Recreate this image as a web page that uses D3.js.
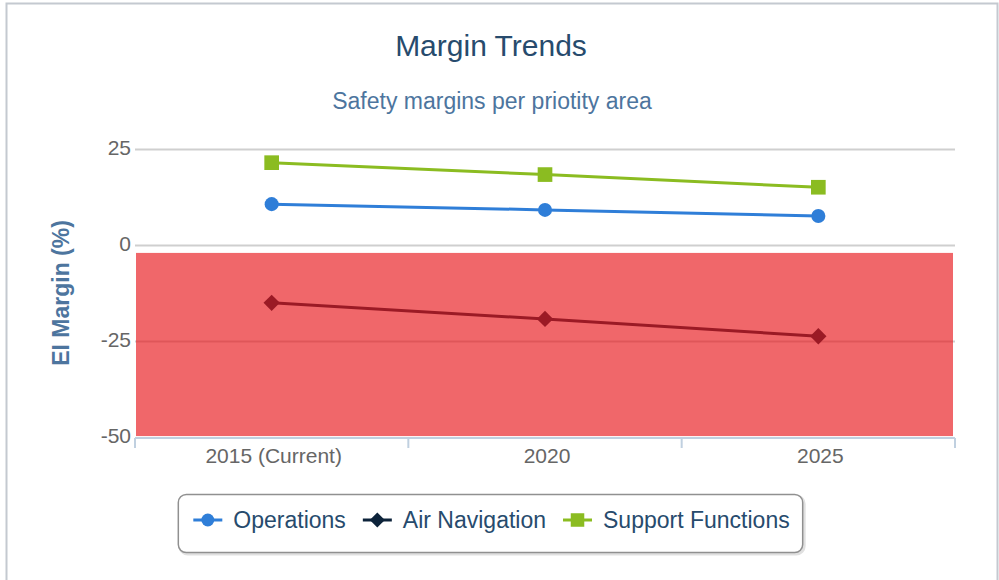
<!DOCTYPE html>
<html>
<head>
<meta charset="utf-8">
<script src="https://cdn.jsdelivr.net/npm/d3@7"></script>
<style>
  body { margin: 0; background: #fff; }
  text { font-family: "Liberation Sans", Arial, sans-serif; }
</style>
</head>
<body>
<div id="dataviz_area"></div>
<script>
// data
var categories = ["2015 (Current)", "2020", "2025"];
var operations = [10.9, 9.4, 7.8];
var airNavigation = [-14.8, -19.0, -23.5];
var supportFunctions = [21.7, 18.6, 15.3];
var yTicks = [25, 0, -25, -50];
var dangerBand = [-49.5, -1.8];

var series = [
  {name: "Operations", values: operations, color: "#2f7ed8", symbol: "circle"},
  {name: "Air Navigation", values: airNavigation, color: "#0d233a", symbol: "diamond"},
  {name: "Support Functions", values: supportFunctions, color: "#8bbc21", symbol: "square"}
];

var W = 999, H = 580;
var plot = {left: 135, right: 955, top: 150, bottom: 438};

var svg = d3.select("#dataviz_area")
  .append("svg")
  .attr("width", W)
  .attr("height", H);

// outer frame
svg.append("rect")
  .attr("x", 6.5).attr("y", 3.5)
  .attr("width", 991).attr("height", 600)
  .attr("fill", "#fff")
  .attr("stroke", "#c4c9d0")
  .attr("stroke-width", 2);

var x = d3.scaleBand()
  .domain(categories)
  .range([plot.left, plot.right])
  .padding(0);

var y = d3.scaleLinear()
  .domain([-50, 25])
  .range([plot.bottom, plot.top]);

function cx(d) { return x(d) + x.bandwidth() / 2; }

// titles
svg.append("text")
  .attr("x", 491).attr("y", 56)
  .attr("text-anchor", "middle")
  .style("font-size", "30px")
  .attr("fill", "#274b6d")
  .text("Margin Trends");

svg.append("text")
  .attr("x", 492).attr("y", 109)
  .attr("text-anchor", "middle")
  .style("font-size", "23px")
  .attr("fill", "#4d759e")
  .text("Safety margins per priotity area");

// grid lines
svg.append("g")
  .selectAll("line")
  .data(yTicks.filter(function(d){ return d != -50; }))
  .enter()
  .append("line")
  .attr("x1", plot.left).attr("x2", plot.right)
  .attr("y1", function(d){ return Math.round(y(d)) - 0.5; })
  .attr("y2", function(d){ return Math.round(y(d)) - 0.5; })
  .attr("stroke", "#cfcfcf")
  .attr("stroke-width", 2);

// y axis labels (no line), plain hyphen minus like the original
var yAxis = svg.append("g")
  .attr("transform", "translate(" + (plot.left - 4) + ",-2)")
  .call(d3.axisLeft(y).tickValues(yTicks).tickSize(0).tickPadding(0)
    .tickFormat(function(d){ return String(d); }));
yAxis.select(".domain").remove();
yAxis.selectAll("text")
  .style("font-size", "21px")
  .style("font-family", "'Liberation Sans', Arial, sans-serif")
  .attr("fill", "#666");

svg.append("text")
  .attr("transform", "translate(61," + ((plot.top + plot.bottom) / 2 - 1) + ") rotate(-90)")
  .attr("text-anchor", "middle")
  .attr("dy", "0.35em")
  .style("font-size", "23px")
  .style("font-weight", "bold")
  .attr("fill", "#4d759e")
  .text("EI Margin (%)");

// x axis: line, boundary ticks, centred labels
var xAxis = svg.append("g");
xAxis.append("line")
  .attr("x1", plot.left).attr("x2", plot.right)
  .attr("y1", plot.bottom).attr("y2", plot.bottom)
  .attr("stroke", "#c0d0e0")
  .attr("stroke-width", 2);
xAxis.selectAll(".tick")
  .data(categories.map(function(d){ return x(d); }).concat([plot.right]))
  .enter()
  .append("line")
  .attr("x1", function(d){ return d; }).attr("x2", function(d){ return d; })
  .attr("y1", plot.bottom).attr("y2", plot.bottom + 10)
  .attr("stroke", "#c0d0e0")
  .attr("stroke-width", 2);
xAxis.selectAll(".lbl")
  .data(categories)
  .enter()
  .append("text")
  .attr("x", function(d){ return cx(d) + 2; })
  .attr("y", 463)
  .attr("text-anchor", "middle")
  .style("font-size", "21px")
  .attr("fill", "#666")
  .text(function(d){ return d; });

// series
var line = d3.line()
  .x(function(d){ return cx(d.cat); })
  .y(function(d){ return y(d.v); });

function symbolPath(kind, size) {
  var s = kind == "circle" ? d3.symbolCircle : kind == "square" ? d3.symbolSquare : d3.symbolDiamond2;
  return d3.symbol().type(s).size(size)();
}
var markerSize = {circle: 155, square: 215, diamond: 170};

series.forEach(function(s){
  var pts = s.values.map(function(v, i){ return {cat: categories[i], v: v}; });
  var g = svg.append("g");
  g.append("path")
    .attr("d", line(pts))
    .attr("fill", "none")
    .attr("stroke", s.color)
    .attr("stroke-width", 3);
  g.selectAll("path.m")
    .data(pts)
    .enter()
    .append("path")
    .attr("class", "m")
    .attr("transform", function(d){ return "translate(" + cx(d.cat) + "," + y(d.v) + ")"; })
    .attr("d", symbolPath(s.symbol, markerSize[s.symbol]))
    .attr("fill", s.color);
});

// semi-transparent red band drawn above the series
svg.append("rect")
  .attr("x", plot.left + 1)
  .attr("width", plot.right - plot.left - 3)
  .attr("y", y(dangerBand[1]))
  .attr("height", y(dangerBand[0]) - y(dangerBand[1]))
  .attr("fill", "rgb(232,22,26)")
  .attr("fill-opacity", 0.65);

// legend
var legend = svg.append("g");
var shadow = legend.append("rect");
var box = legend.append("rect");
var items = legend.append("g");
var xpos = 0;
series.forEach(function(s){
  var it = items.append("g").attr("transform", "translate(" + xpos + ",0)");
  it.append("line")
    .attr("x1", 0).attr("x2", 29)
    .attr("y1", 0).attr("y2", 0)
    .attr("stroke", s.color)
    .attr("stroke-width", 3);
  it.append("path")
    .attr("transform", "translate(14.5,0)")
    .attr("d", symbolPath(s.symbol, markerSize[s.symbol] * 0.85))
    .attr("fill", s.color);
  var t = it.append("text")
    .attr("x", 40).attr("y", 8)
    .style("font-size", "23px")
    .attr("fill", "#274b6d")
    .text(s.name);
  xpos += 40 + t.node().getComputedTextLength() + 17;
});
var legW = xpos - 17 + 28;
var legX = 490.5 - legW / 2;
items.attr("transform", "translate(" + (legX + 15) + ",520)");
box.attr("x", legX).attr("y", 494.5)
  .attr("width", legW).attr("height", 58)
  .attr("rx", 8)
  .attr("fill", "#fff")
  .attr("stroke", "#909090")
  .attr("stroke-width", 1.5);
shadow.attr("x", legX + 1.5).attr("y", 496)
  .attr("width", legW).attr("height", 58)
  .attr("rx", 8)
  .attr("fill", "none")
  .attr("stroke", "#000")
  .attr("stroke-opacity", 0.12)
  .attr("stroke-width", 3);
</script>
</body>
</html>
